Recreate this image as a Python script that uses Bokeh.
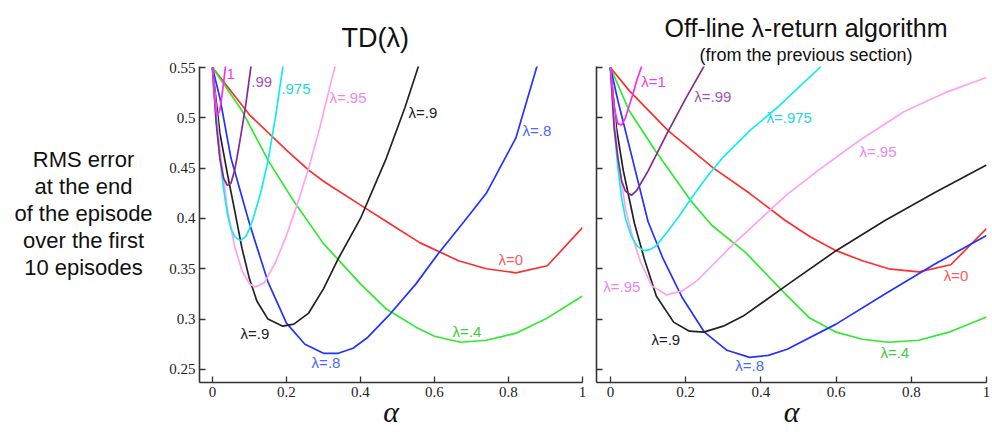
from bokeh.plotting import figure
from bokeh.layouts import row
from bokeh.models import Label, FixedTicker, CustomJSTickFormatter, Range1d, Title
from bokeh.embed import file_html
from bokeh.resources import INLINE

# ---------------- data: TD(lambda) ----------------
td_alpha_l0 = [0, 0.1, 0.2, 0.26, 0.3, 0.41, 0.47, 0.56, 0.665, 0.74, 0.82, 0.905, 1.0]
td_rms_l0 = [0.55, 0.503, 0.468, 0.448, 0.437, 0.411, 0.397, 0.376, 0.358, 0.35, 0.346, 0.353, 0.391]

td_alpha_l4 = [0, 0.08, 0.15, 0.22, 0.3, 0.4, 0.47, 0.55, 0.6, 0.67, 0.74, 0.82, 0.9, 1.0]
td_rms_l4 = [0.55, 0.507, 0.458, 0.417, 0.375, 0.335, 0.31, 0.292, 0.283, 0.277, 0.279, 0.286, 0.3, 0.323]

td_alpha_l8 = [0, 0.02, 0.05, 0.1, 0.15, 0.2, 0.25, 0.3, 0.34, 0.38, 0.42, 0.48, 0.55, 0.61, 0.68, 0.74, 0.82, 0.88]
td_rms_l8 = [0.55, 0.52, 0.46, 0.395, 0.337, 0.296, 0.275, 0.266, 0.266, 0.271, 0.282, 0.305, 0.335, 0.365, 0.397, 0.425, 0.48, 0.555]

td_alpha_l9 = [0, 0.02, 0.04, 0.06, 0.08, 0.1, 0.12, 0.15, 0.19, 0.22, 0.26, 0.3, 0.34, 0.4, 0.47, 0.52, 0.56]
td_rms_l9 = [0.55, 0.485, 0.445, 0.408, 0.37, 0.34, 0.318, 0.3, 0.293, 0.295, 0.306, 0.33, 0.36, 0.4, 0.46, 0.51, 0.555]

td_alpha_l95 = [0, 0.02, 0.04, 0.06, 0.08, 0.1, 0.116, 0.14, 0.17, 0.2, 0.23, 0.26, 0.29, 0.32, 0.335]
td_rms_l95 = [0.55, 0.47, 0.41, 0.372, 0.348, 0.335, 0.332, 0.336, 0.356, 0.383, 0.415, 0.45, 0.49, 0.535, 0.556]

td_alpha_l975 = [0, 0.01, 0.02, 0.03, 0.04, 0.05, 0.06, 0.075, 0.09, 0.1, 0.11, 0.13, 0.15, 0.17, 0.19, 0.195]
td_rms_l975 = [0.55, 0.5, 0.46, 0.43, 0.405, 0.39, 0.382, 0.378, 0.382, 0.39, 0.4, 0.425, 0.457, 0.5, 0.55, 0.56]

td_alpha_l99 = [0, 0.01, 0.02, 0.03, 0.04, 0.05, 0.06, 0.07, 0.08, 0.09, 0.1, 0.106]
td_rms_l99 = [0.55, 0.495, 0.46, 0.44, 0.433, 0.435, 0.448, 0.468, 0.49, 0.513, 0.54, 0.556]

td_alpha_l1 = [0, 0.005, 0.01, 0.015, 0.02, 0.025, 0.03, 0.035, 0.04]
td_rms_l1 = [0.55, 0.522, 0.506, 0.503, 0.508, 0.52, 0.535, 0.55, 0.566]

# ---------------- data: off-line lambda-return ----------------
ol_alpha_l0 = [0, 0.05, 0.154, 0.274, 0.37, 0.465, 0.53, 0.6, 0.67, 0.74, 0.82, 0.905, 1.0]
ol_rms_l0 = [0.55, 0.527, 0.487, 0.45, 0.425, 0.398, 0.382, 0.368, 0.358, 0.35, 0.347, 0.354, 0.39]

ol_alpha_l4 = [0, 0.05, 0.12, 0.213, 0.27, 0.36, 0.47, 0.53, 0.6, 0.67, 0.74, 0.82, 0.9, 1.0]
ol_rms_l4 = [0.55, 0.507, 0.467, 0.418, 0.393, 0.366, 0.323, 0.301, 0.287, 0.28, 0.277, 0.279, 0.287, 0.302]

ol_alpha_l8 = [0, 0.02, 0.06, 0.1, 0.14, 0.19, 0.25, 0.31, 0.37, 0.42, 0.47, 0.6, 0.73, 0.864, 1.0]
ol_rms_l8 = [0.55, 0.517, 0.457, 0.397, 0.36, 0.322, 0.287, 0.269, 0.262, 0.264, 0.27, 0.295, 0.325, 0.355, 0.383]

ol_alpha_l9 = [0, 0.016, 0.034, 0.064, 0.09, 0.122, 0.168, 0.21, 0.248, 0.3, 0.353, 0.41, 0.47, 0.6, 0.73, 0.864, 1.0]
ol_rms_l9 = [0.55, 0.49, 0.448, 0.395, 0.36, 0.323, 0.297, 0.288, 0.287, 0.293, 0.303, 0.318, 0.334, 0.368, 0.398, 0.426, 0.453]

ol_alpha_l95 = [0, 0.02, 0.04, 0.06, 0.08, 0.11, 0.15, 0.19, 0.23, 0.27, 0.32, 0.38, 0.47, 0.55, 0.66, 0.78, 0.89, 1.0]
ol_rms_l95 = [0.55, 0.46, 0.41, 0.38, 0.357, 0.333, 0.324, 0.328, 0.338, 0.353, 0.372, 0.393, 0.424, 0.447, 0.477, 0.506, 0.525, 0.54]

ol_alpha_l975 = [0, 0.01, 0.02, 0.03, 0.04, 0.055, 0.07, 0.088, 0.105, 0.122, 0.15, 0.184, 0.215, 0.26, 0.3, 0.37, 0.443, 0.5, 0.56]
ol_rms_l975 = [0.55, 0.49, 0.45, 0.42, 0.4, 0.383, 0.373, 0.368, 0.369, 0.373, 0.386, 0.403, 0.42, 0.443, 0.461, 0.487, 0.51, 0.53, 0.551]

ol_alpha_l99 = [0, 0.01, 0.02, 0.03, 0.04, 0.056, 0.07, 0.1, 0.15, 0.2, 0.25]
ol_rms_l99 = [0.55, 0.49, 0.46, 0.437, 0.427, 0.423, 0.428, 0.447, 0.484, 0.519, 0.552]

ol_alpha_l1 = [0, 0.01, 0.02, 0.03, 0.04, 0.05, 0.06, 0.07, 0.082, 0.09]
ol_rms_l1 = [0.55, 0.51, 0.494, 0.493, 0.5, 0.512, 0.524, 0.537, 0.55, 0.56]

x_ticks = [0, 0.2, 0.4, 0.6, 0.8, 1.0]
y_ticks = [0.25, 0.3, 0.35, 0.4, 0.45, 0.5, 0.55]

title_left = "TD(λ)"
title_right = "Off-line λ-return algorithm"
subtitle_right = "(from the previous section)"
y_label_lines = ["RMS error", "at the end", "of the episode", "over the first", "10 episodes"]
x_label = "α"

# ---------------- styles ----------------
SANS = "Liberation Sans"
SERIF = "Liberation Serif"
C = {
    "l0": ("#ff2e2e", "#ff5a5a"),
    "l4": ("#2eea2e", "#3dcc3d"),
    "l8": ("#2233ff", "#4a6aff"),
    "l9": ("#222222", "#222222"),
    "l95": ("#ffa2f4", "#ec86ec"),
    "l975": ("#14ecec", "#22d8d8"),
    "l99": ("#8a2a8a", "#a455aa"),
    "l1": ("#ff2af2", "#ee3ee6"),
}
H = 431
BT = 66
BB = 49
YR = (0.237, 0.551)


def base_fig(width, bl, br, xr):
    p = figure(width=width, height=H, x_range=Range1d(*xr), y_range=Range1d(*YR),
               output_backend="svg", toolbar_location=None,
               min_border_left=bl, min_border_right=br, min_border_top=BT, min_border_bottom=BB)
    p.grid.visible = False
    p.outline_line_color = None
    p.background_fill_color = "white"
    p.border_fill_color = "white"
    return p


def make_fig(width, bl, br, xr, show_ylabels):
    p = base_fig(width, bl, br, xr)
    for ax in (p.xaxis[0], p.yaxis[0]):
        ax.axis_line_color = "#333333"
        ax.axis_line_width = 1.6
        ax.major_tick_line_color = "#333333"
        ax.major_tick_line_width = 1.3
        ax.major_tick_in = 6
        ax.major_tick_out = 0
        ax.minor_tick_line_color = None
        ax.major_label_text_font = SERIF
        ax.major_label_text_font_size = "15px"
        ax.major_label_text_color = "#222222"
        ax.major_label_standoff = 4
    p.xaxis.ticker = FixedTicker(ticks=x_ticks)
    p.yaxis.ticker = FixedTicker(ticks=y_ticks)
    fmt = "return String(Math.round(tick*100)/100);"
    p.xaxis.formatter = CustomJSTickFormatter(code=fmt)
    if show_ylabels:
        p.yaxis.formatter = CustomJSTickFormatter(code=fmt)
    else:
        p.yaxis.formatter = CustomJSTickFormatter(code="return '';")
    p.xaxis.axis_label = x_label
    p.xaxis.axis_label_text_font = SERIF
    p.xaxis.axis_label_text_font_style = "italic"
    p.xaxis.axis_label_text_font_size = "30px"
    p.xaxis.axis_label_text_color = "#111111"
    p.xaxis.axis_label_standoff = -5
    return p


def lbl(p, x, y, text, color, size="15px", font=SANS, align="left"):
    p.add_layout(Label(x=x, y=y, text=text, text_color=color, text_font=font,
                       text_font_size=size, text_align=align, text_baseline="middle"))


# ---------------- y-label panel ----------------
labfig = figure(width=158, height=H, x_range=Range1d(0, 158), y_range=Range1d(*YR),
                output_backend="svg", toolbar_location=None,
                x_axis_location=None, y_axis_location=None,
                min_border_left=0, min_border_right=0, min_border_top=BT, min_border_bottom=BB)
labfig.grid.visible = False
labfig.outline_line_color = None
y_line_pos = [0.4586, 0.4317, 0.4049, 0.3780, 0.3512]
for yy, t in zip(y_line_pos, y_label_lines):
    lbl(labfig, 83, yy, t, "#111111", size="22px", align="center")

# ---------------- left panel ----------------
left = make_fig(430, 41, 6, (-0.035, 1.0), True)
left.title = Title(text=title_left, align="left", offset=135, text_font=SANS, text_font_size="27px",
                   text_font_style="normal", text_color="#111111", standoff=14, padding=7)
left_series = [
    ("l0", td_alpha_l0, td_rms_l0), ("l4", td_alpha_l4, td_rms_l4),
    ("l8", td_alpha_l8, td_rms_l8), ("l9", td_alpha_l9, td_rms_l9),
    ("l95", td_alpha_l95, td_rms_l95), ("l975", td_alpha_l975, td_rms_l975),
    ("l99", td_alpha_l99, td_rms_l99), ("l1", td_alpha_l1, td_rms_l1),
]
for key, xs, ys in left_series:
    left.line(xs, ys, line_color=C[key][0], line_width=1.7)

left_labels = [
    (0.038, 0.544, "1", "l1"), (0.105, 0.536, ".99", "l99"), (0.186, 0.529, ".975", "l975"),
    (0.316, 0.520, "λ=.95", "l95"), (0.530, 0.505, "λ=.9", "l9"), (0.838, 0.487, "λ=.8", "l8"),
    (0.773, 0.359, "λ=0", "l0"), (0.649, 0.288, "λ=.4", "l4"), (0.076, 0.286, "λ=.9", "l9"),
    (0.268, 0.257, "λ=.8", "l8"),
]
for x, y, t, key in left_labels:
    lbl(left, x, y, t, C[key][1])

# ---------------- right panel ----------------
right = make_fig(404, 8, 6, (-0.037, 1.0), False)
right.title = Title(text=title_right, align="left", offset=68, text_font=SANS, text_font_size="25px",
                    text_font_style="normal", text_color="#111111", standoff=0)
right.add_layout(Title(text=subtitle_right, align="left", offset=103, text_font=SANS,
                       text_font_size="18px", text_font_style="normal", text_color="#111111",
                       standoff=3), "above")
right_series = [
    ("l0", ol_alpha_l0, ol_rms_l0), ("l4", ol_alpha_l4, ol_rms_l4),
    ("l8", ol_alpha_l8, ol_rms_l8), ("l9", ol_alpha_l9, ol_rms_l9),
    ("l95", ol_alpha_l95, ol_rms_l95), ("l975", ol_alpha_l975, ol_rms_l975),
    ("l99", ol_alpha_l99, ol_rms_l99), ("l1", ol_alpha_l1, ol_rms_l1),
]
for key, xs, ys in right_series:
    right.line(xs, ys, line_color=C[key][0], line_width=1.7)

right_labels = [
    (0.082, 0.536, "λ=1", "l1"), (0.223, 0.521, "λ=.99", "l99"), (0.415, 0.500, "λ=.975", "l975"),
    (0.662, 0.467, "λ=.95", "l95"), (0.886, 0.343, "λ=0", "l0"), (-0.019, 0.332, "λ=.95", "l95"),
    (0.109, 0.280, "λ=.9", "l9"), (0.332, 0.254, "λ=.8", "l8"), (0.718, 0.267, "λ=.4", "l4"),
]
for x, y, t, key in right_labels:
    lbl(right, x, y, t, C[key][1])

layout = row(labfig, left, right, spacing=0)
open("out.html", "w").write(file_html(layout, INLINE))
